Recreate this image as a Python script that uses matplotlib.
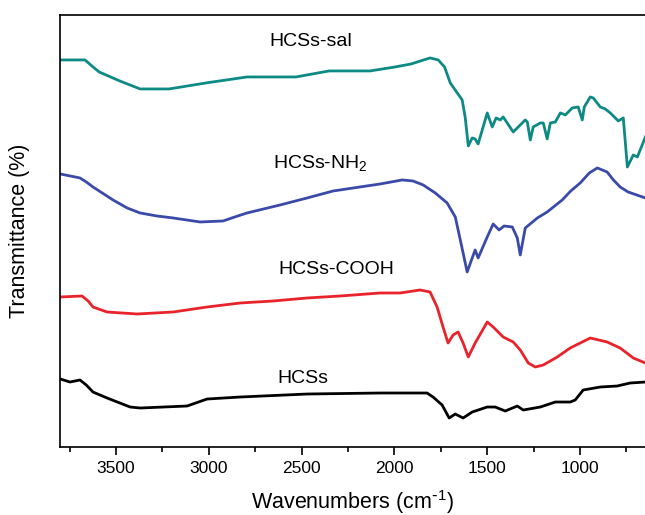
import matplotlib
matplotlib.use("Agg")
import matplotlib.pyplot as plt
from matplotlib.ticker import MultipleLocator

plt.rcParams['font.family'] = ['Liberation Sans', 'DejaVu Sans']
plt.rcParams['mathtext.default'] = 'regular'

# wavenumbers (cm-1) and offset transmittance (arb. units)
wn_sal = [3800, 3667, 3630, 3591, 3480, 3370, 3214, 3015, 2794, 2530, 2352, 2131, 1996, 1910,
          1808, 1764, 1730, 1699, 1635, 1619, 1602, 1581, 1565, 1549, 1500, 1473, 1452,
          1430, 1414, 1360, 1295, 1284, 1268, 1252, 1214, 1198, 1177, 1160, 1133,
          1106, 1079, 1042, 1010, 988, 977, 945, 929, 891, 864, 837, 810, 794, 767,
          745, 713, 691, 648]
t_sal = [387, 387, 381, 375, 366, 358, 358, 364, 370, 370, 376, 376, 380, 383,
         389, 387, 380, 364, 347, 330, 301, 309, 308, 303, 334, 320, 329,
         327, 330, 315, 327, 325, 307, 320, 324, 324, 308, 324, 325,
         334, 332, 339, 340, 327, 340, 350, 349, 340, 338, 334, 329, 326, 329,
         280, 292, 290, 310]

wn_nh2 = [3800, 3694, 3660, 3624, 3516, 3440, 3370, 3280, 3192, 3047, 2923, 2860, 2794,
          2616, 2470, 2330, 2185, 2077, 1958, 1900, 1845, 1780, 1716, 1672, 1645,
          1608, 1581, 1565, 1549, 1500, 1468, 1436, 1409, 1365, 1338, 1322, 1295,
          1230, 1177, 1096, 1050, 999, 950, 907, 854, 820, 784, 741, 648]
t_nh2 = [273, 269, 265, 260, 247, 239, 234, 231, 229, 225, 226, 230, 234,
         242, 249, 256, 260, 263, 267, 266, 262, 254, 244, 230, 207,
         175, 189, 197, 189, 210, 223, 217, 221, 220, 209, 192, 219,
         229, 235, 247, 256, 264, 274, 279, 275, 267, 260, 255, 249]

wn_cooh = [3800, 3683, 3650, 3624, 3548, 3386, 3192, 3009, 2831, 2653, 2470, 2292, 2077,
           1969, 1862, 1808, 1770, 1738, 1711, 1684, 1657, 1630, 1602, 1565, 1500,
           1468, 1414, 1360, 1322, 1279, 1241, 1198, 1123, 1053, 945, 854, 784,
           713, 648]
t_cooh = [150, 151, 146, 140, 135, 133, 135, 140, 144, 146, 149, 151, 154,
          154, 157, 155, 140, 120, 104, 112, 115, 104, 90, 104, 125,
          120, 110, 105, 97, 84, 80, 82, 90, 99, 109, 105, 99,
          89, 84]

wn_hcs = [3800, 3748, 3694, 3660, 3624, 3548, 3424, 3370, 3117, 3009, 2831, 2470, 2077,
          1824, 1792, 1743, 1705, 1672, 1630, 1581, 1500, 1457, 1403, 1338, 1306,
          1214, 1133, 1053, 1026, 983, 891, 800, 730, 648]
t_hcs = [68, 65, 67, 62, 55, 49, 40, 39, 41, 48, 50, 53, 54,
         54, 50, 42, 29, 33, 29, 35, 40, 40, 36, 41, 37,
         40, 45, 45, 47, 57, 60, 61, 64, 65]

fig = plt.figure(figsize=(6.45, 5.15), dpi=100)
ax = fig.add_axes([0.0935, 0.132, 0.9065, 0.839])

lw = 2.0
ax.plot(wn_sal, t_sal, color="#0e8a84", lw=lw)
ax.plot(wn_nh2, t_nh2, color="#3b4aa8", lw=lw)
ax.plot(wn_cooh, t_cooh, color="#e8232b", lw=lw)
ax.plot(wn_hcs, t_hcs, color="black", lw=lw)

ax.text(2671, 405, "HCSs-sal", fontsize=14, va="center", ha="left")
ax.text(2653, 284, "HCSs-NH$_2$", fontsize=14, va="center", ha="left")
ax.text(2626, 177, "HCSs-COOH", fontsize=14, va="center", ha="left")
ax.text(2632, 69, "HCSs", fontsize=14, va="center", ha="left")

ax.set_xlim(3800, 650)
ax.set_ylim(0, 432)
ax.xaxis.set_major_locator(MultipleLocator(500))
ax.xaxis.set_minor_locator(MultipleLocator(250))
ax.set_yticks([])
ax.spines["right"].set_visible(False)
for s in ["left", "top", "bottom"]:
    ax.spines[s].set_linewidth(1.2)
ax.tick_params(axis="x", which="major", direction="out", length=6, width=1.2,
               labelsize=12.5, pad=4)
ax.tick_params(axis="x", which="minor", direction="out", length=3.5, width=1.2)

ax.set_xlabel("Wavenumbers (cm$^{\\text{-}1}$)", fontsize=15.5, labelpad=9)
ax.set_ylabel("Transmittance (%)", fontsize=15.5, labelpad=22)

fig.savefig("out.png", dpi=100)
